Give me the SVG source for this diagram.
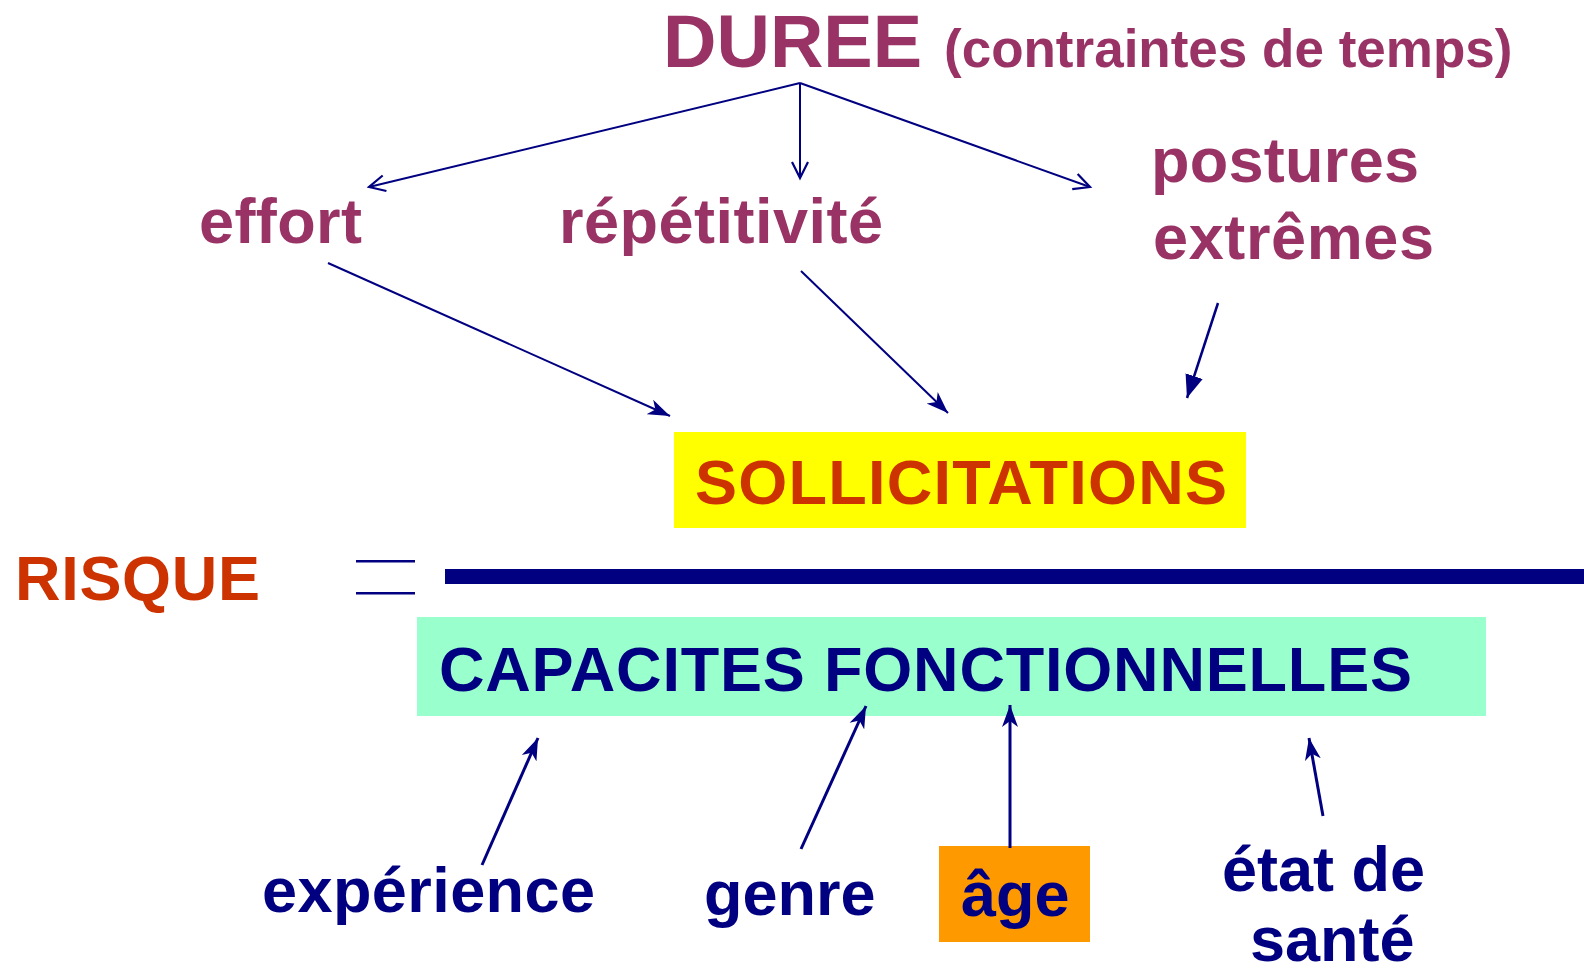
<svg xmlns="http://www.w3.org/2000/svg" width="1584" height="972" viewBox="0 0 1584 972">
<style>
text{font-family:"Liberation Sans",Arial,sans-serif;font-weight:bold}
.p{fill:#993366;font-size:63px}
.r{fill:#CC3300;font-size:63px}
.n{fill:#000080;font-size:63px}
.c{stroke:#000080;fill:none}
</style>
<defs>
<marker id="open" markerUnits="userSpaceOnUse" markerWidth="20" markerHeight="20" viewBox="0 0 20 20" refX="17" refY="10" orient="auto">
<path d="M1,2 L17,10 L1,18" fill="none" stroke="#000080" stroke-width="2.2"/>
</marker>
<marker id="stealth" markerUnits="userSpaceOnUse" markerWidth="24" markerHeight="18" viewBox="0 0 24 18" refX="22" refY="9" orient="auto">
<path d="M0,1 L22,9 L0,17 L6,9 z" fill="#000080"/>
</marker>
<marker id="tri" markerUnits="userSpaceOnUse" markerWidth="24" markerHeight="20" viewBox="0 0 24 20" refX="23" refY="10" orient="auto">
<path d="M0,1 L23,10 L0,19 z" fill="#000080"/>
</marker>
</defs>
<g id="duree"><text x="663" y="67" class="p" style="font-size:74px">DUREE</text><text x="944" y="67" class="p" style="font-size:53px">(contraintes de temps)</text></g>
<g id="effort"><text x="199" y="243" class="p" textLength="163" lengthAdjust="spacing">effort</text></g>
<g id="repetitivite"><text x="559" y="243" class="p" textLength="324" lengthAdjust="spacing">répétitivité</text></g>
<g id="postures"><text x="1151" y="182" class="p" textLength="268" lengthAdjust="spacing">postures</text><text x="1153" y="259" class="p" textLength="281" lengthAdjust="spacing">extrêmes</text></g>
<g id="sollicitations"><rect x="674" y="432" width="572" height="96" fill="#FFFF00"/><text x="695" y="504" class="r" textLength="532" lengthAdjust="spacing">SOLLICITATIONS</text></g>
<g id="risque"><text x="15" y="600" class="r" textLength="245" lengthAdjust="spacing">RISQUE</text>
<rect x="356" y="560" width="59" height="2.5" fill="#000080"/><rect x="356" y="592" width="59" height="2.5" fill="#000080"/>
<rect x="445" y="569" width="1139" height="15" fill="#000080"/></g>
<g id="capacites"><rect x="417" y="617" width="1069" height="99" fill="#99FFCC"/><text x="439" y="691" class="n" textLength="973" lengthAdjust="spacing">CAPACITES FONCTIONNELLES</text></g>
<g id="experience"><text x="262" y="912" class="n" textLength="333" lengthAdjust="spacing">expérience</text></g>
<g id="genre"><text x="704" y="915" class="n">genre</text></g>
<g id="age"><rect x="939" y="846" width="151" height="96" fill="#FF9900"/><text x="961" y="916" class="n">âge</text></g>
<g id="etat"><text x="1222" y="891" class="n">état de</text><text x="1250" y="961" class="n">santé</text></g>
<g id="connectors">
<path class="c" stroke-width="2" d="M800,83 L369,187" marker-end="url(#open)"/>
<path class="c" stroke-width="2" d="M800,83 L800,178" marker-end="url(#open)"/>
<path class="c" stroke-width="2" d="M800,83 L1090,187" marker-end="url(#open)"/>
<path class="c" stroke-width="2" d="M328,263 L670,416" marker-end="url(#stealth)"/>
<path class="c" stroke-width="2" d="M801,271 L948,413" marker-end="url(#stealth)"/>
<path class="c" stroke-width="2.5" d="M1218,303 L1187,398" marker-end="url(#tri)"/>
<path class="c" stroke-width="3" d="M482,865 L538,738" marker-end="url(#stealth)"/>
<path class="c" stroke-width="3" d="M801,849 L866,706" marker-end="url(#stealth)"/>
<path class="c" stroke-width="3" d="M1010,848 L1010,705" marker-end="url(#stealth)"/>
<path class="c" stroke-width="3" d="M1323,816 L1309,738" marker-end="url(#stealth)"/>
</g>
</svg>
